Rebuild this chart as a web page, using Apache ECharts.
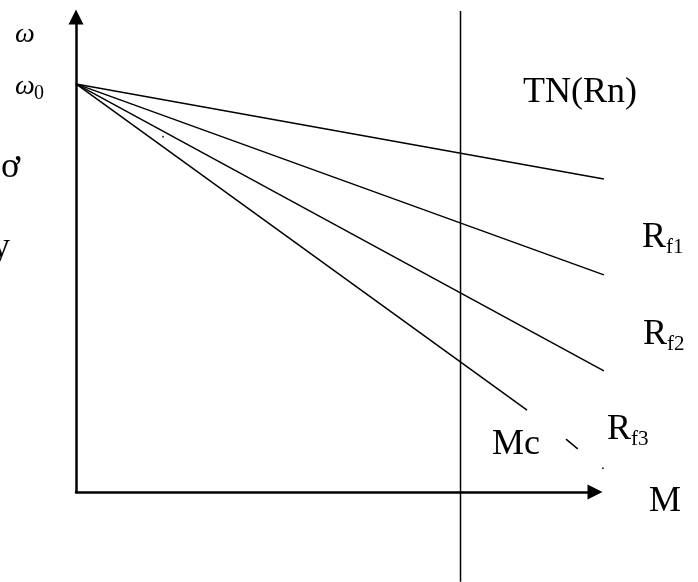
<!DOCTYPE html>
<html>
<head>
<meta charset="utf-8">
<script src="https://cdn.jsdelivr.net/npm/echarts@6/dist/echarts.min.js"></script>
<style>
  html, body { margin: 0; padding: 0; background: #fff; }
  #main { width: 698px; height: 582px; }
</style>
</head>
<body>
<div id="main"></div>
<script>
// characteristic lines, all start at omega0 on the speed axis
const tnLine = [[0, 87.2], [103.1, 66.9]];
const rf1Line = [[0, 87.2], [103.1, 46.4]];
const rf2Line = [[0, 87.2], [103.1, 25.9]];
const rf3Line = [[0, 87.2], [88.1, 17.5]];
const rf3Dash = [[95.7, 11.3], [98.0, 9.2]];
const rf3Dot = [[102.9, 5.1]];
const strayDot = [[17.0, 75.9]];
// load torque Mc (vertical line)
const mcLine = [[75.1, -19.2], [75.1, 102.8]];

const chart = echarts.init(document.getElementById('main'), null, { renderer: 'canvas' });

// lines live on grid 1, which shares the scale of grid 0 but reaches a bit further right
function seg(data) {
    return {
        type: 'line',
        data: data,
        xAxisIndex: 1,
        yAxisIndex: 1,
        symbol: 'none',
        clip: false,
        silent: true,
        lineStyle: { color: '#000', width: 1.5 }
    };
}

function dot(data, size) {
    return {
        type: 'scatter',
        data: data,
        xAxisIndex: 1,
        yAxisIndex: 1,
        symbol: 'circle',
        symbolSize: size,
        clip: false,
        silent: true,
        itemStyle: { color: '#000' }
    };
}

// text with baseline at y (roughly)
function label(text, x, baseline, size, italic) {
    return {
        type: 'text',
        x: x,
        y: baseline - 0.3 * size,
        silent: true,
        style: {
            text: text,
            font: (italic ? 'italic ' : '') + size + 'px "Liberation Serif"',
            fill: '#000',
            verticalAlign: 'middle'
        }
    };
}

const axisCommon = {
    type: 'value',
    gridIndex: 0,
    min: 0,
    max: 100,
    axisLine: {
        show: true,
        symbol: ['none', 'triangle'],
        symbolSize: [15, 15],
        symbolOffset: [0, 7],
        lineStyle: { color: '#000', width: 2.5 }
    },
    axisTick: { show: false },
    axisLabel: { show: false },
    splitLine: { show: false }
};

const hiddenAxis = {
    type: 'value',
    gridIndex: 1,
    min: 0,
    show: false,
    splitLine: { show: false }
};

const option = {
    animation: false,
    backgroundColor: '#fff',
    grid: [
        { left: 76, top: 24, right: 110, bottom: 90 },
        { left: 76, top: 24, right: 94, bottom: 90 }
    ],
    xAxis: [axisCommon, Object.assign({}, hiddenAxis, { max: 103.125 })],
    yAxis: [axisCommon, Object.assign({}, hiddenAxis, { max: 100 })],
    series: [
        seg(tnLine),
        seg(rf1Line),
        seg(rf2Line),
        seg(rf3Line),
        seg(rf3Dash),
        dot(rf3Dot, 2),
        dot(strayDot, 2),
        seg(mcLine)
    ],
    graphic: [
        label('ω', 15, 43, 28, true),
        label('ω', 15, 95, 28, true),
        label('0', 34, 100, 20),
        label('ơ', 1, 178, 36),
        label('y', -8, 258, 36),
        label('TN(Rn)', 523, 103, 36),
        label('R', 642, 248, 36),
        label('f1', 666, 254, 21),
        label('R', 643, 345, 36),
        label('f2', 667, 351, 21),
        label('R', 607, 440, 36),
        label('f3', 631, 446, 21),
        label('Mc', 492, 455, 36),
        label('M', 649, 512, 36)
    ]
};

chart.setOption(option);
</script>
</body>
</html>
